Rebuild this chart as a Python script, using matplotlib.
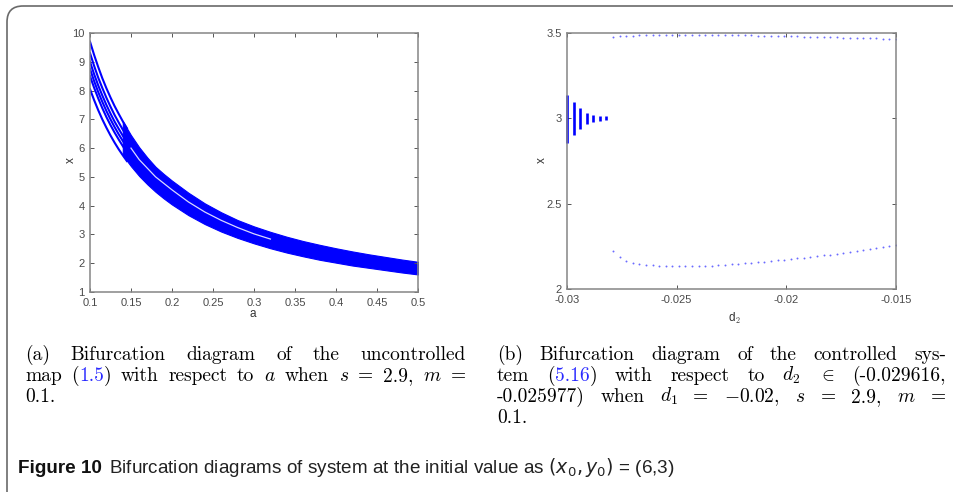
import numpy as np
import matplotlib
matplotlib.use('Agg')
import matplotlib.pyplot as plt
from matplotlib.patches import FancyBboxPatch

plt.rcParams['mathtext.fontset'] = 'cm'

# ---- panel (a): uncontrolled map, band ----
a_band = [0.14, 0.15, 0.16, 0.17, 0.18, 0.19, 0.2, 0.22, 0.24, 0.26, 0.28, 0.3,
          0.32, 0.34, 0.36, 0.38, 0.4, 0.42, 0.44, 0.46, 0.48, 0.5]
x_upper = [6.93, 6.45, 6.03, 5.67, 5.35, 5.1, 4.87, 4.45, 4.08, 3.77, 3.5, 3.28,
           3.09, 2.92, 2.77, 2.64, 2.52, 2.41, 2.31, 2.22, 2.13, 2.05]
x_lower = [5.75, 5.37, 5.03, 4.74, 4.48, 4.25, 4.04, 3.67, 3.36, 3.1, 2.88, 2.69,
           2.52, 2.37, 2.24, 2.12, 2.02, 1.92, 1.84, 1.76, 1.68, 1.61]

# separate strands near a = 0.1
a_strand = [0.1, 0.105, 0.11, 0.115, 0.12, 0.125, 0.13, 0.135, 0.14, 0.145]
strands = [
    [9.7, 9.24, 8.82, 8.43, 8.08, 7.76, 7.46, 7.19, 6.93, 6.69],
    [9.3, 8.86, 8.45, 8.09, 7.75, 7.44, 7.15, 6.89, 6.64, 6.41],
    [9.0, 8.57, 8.18, 7.83, 7.5, 7.2, 6.92, 6.67, 6.43, 6.21],
    [8.75, 8.33, 7.95, 7.61, 7.29, 7.0, 6.73, 6.48, 6.25, 6.03],
    [8.5, 8.1, 7.73, 7.39, 7.08, 6.8, 6.54, 6.3, 6.07, 5.86],
    [8.05, 7.67, 7.32, 7.0, 6.71, 6.44, 6.19, 5.96, 5.75, 5.55],
]

# thin white gap inside the band
a_gap = [0.15, 0.16, 0.18, 0.2, 0.22, 0.24, 0.26, 0.28, 0.3, 0.32]
x_gap = [6.0, 5.6, 5.0, 4.55, 4.13, 3.78, 3.49, 3.24, 3.02, 2.84]

a_ticks = [0.1, 0.15, 0.2, 0.25, 0.3, 0.35, 0.4, 0.45, 0.5]
a_ticklabels = ['0.1', '0.15', '0.2', '0.25', '0.3', '0.35', '0.4', '0.45', '0.5']
xa_ticks = [1, 2, 3, 4, 5, 6, 7, 8, 9, 10]

# ---- panel (b): controlled system ----
d2_bar = [-0.0300, -0.0297, -0.0294, -0.0291, -0.0288, -0.0285, -0.0282]
bar_lo = [2.853, 2.902, 2.940, 2.967, 2.980, 2.987, 2.988]
bar_hi = [3.134, 3.098, 3.061, 3.032, 3.020, 3.012, 3.011]

d2_dots = [-0.0279, -0.0276, -0.0273, -0.0270, -0.0267, -0.0264, -0.0261, -0.0258,
           -0.0255, -0.0252, -0.0249, -0.0246, -0.0243, -0.0240, -0.0237, -0.0234,
           -0.0231, -0.0228, -0.0225, -0.0222, -0.0219, -0.0216, -0.0213, -0.0210,
           -0.0207, -0.0204, -0.0201, -0.0198, -0.0195, -0.0192, -0.0189, -0.0186,
           -0.0183, -0.0180, -0.0177, -0.0174, -0.0171, -0.0168, -0.0165, -0.0162,
           -0.0159, -0.0156, -0.0153, -0.0150]
x_hi_branch = [3.476, 3.480, 3.482, 3.484, 3.486, 3.487, 3.488, 3.489,
               3.489, 3.490, 3.490, 3.490, 3.490, 3.490, 3.490, 3.489,
               3.489, 3.488, 3.488, 3.487, 3.487, 3.486, 3.485, 3.484,
               3.484, 3.483, 3.482, 3.481, 3.480, 3.479, 3.478, 3.477,
               3.476, 3.475, 3.474, 3.473, 3.472, 3.471, 3.470, 3.469,
               3.468, 3.467, 3.466, 3.465]
x_lo_branch = [2.222, 2.186, 2.166, 2.154, 2.146, 2.141, 2.138, 2.136,
               2.134, 2.133, 2.132, 2.132, 2.133, 2.134, 2.135, 2.137,
               2.139, 2.141, 2.144, 2.147, 2.150, 2.153, 2.156, 2.160,
               2.163, 2.167, 2.171, 2.175, 2.179, 2.183, 2.188, 2.192,
               2.197, 2.202, 2.207, 2.212, 2.218, 2.223, 2.229, 2.235,
               2.241, 2.247, 2.253, 2.260]

d2_ticks = [-0.03, -0.025, -0.02, -0.015]
d2_ticklabels = ['-0.03', '-0.025', '-0.02', '-0.015']
xb_ticks = [2, 2.5, 3, 3.5]
xb_ticklabels = ['2', '2.5', '3', '3.5']

W, H = 954, 492
fig = plt.figure(figsize=(W / 100, H / 100), dpi=100)

# overlay in pixel units for frame and captions
ov = fig.add_axes([0, 0, 1, 1], zorder=-1)
ov.set_xlim(0, W)
ov.set_ylim(H, 0)
ov.axis('off')
ov.add_patch(FancyBboxPatch((7, 6), 1100, 600,
                            boxstyle='round,pad=0,rounding_size=16',
                            fc='none', ec='#6a6a6a', lw=1.2))

tick_font = ['Liberation Sans', 'DejaVu Sans']


def style_axes(ax):
    for sp in ax.spines.values():
        sp.set_color('#858585')
        sp.set_linewidth(1.1)
    ax.tick_params(direction='in', top=True, right=True, length=3, width=0.7,
                   color='#555555', labelcolor='#4a4a4a', labelsize=8, pad=4)
    for lab in ax.get_xticklabels() + ax.get_yticklabels():
        lab.set_family(tick_font)


# ---- left panel ----
ax1 = fig.add_axes([90 / W, 1 - 292 / H, 328 / W, 259 / H])
ax1.fill_between(a_band, x_lower, x_upper, color='#0000ff', lw=0.8, ec='#0000ff')
for s in strands:
    ax1.plot(a_strand, s, color='#0000ff', lw=1.5)
ax1.plot(a_gap, x_gap, color='white', lw=0.9, alpha=0.85)
ax1.set_xlim(0.1, 0.5)
ax1.set_ylim(1, 10)
ax1.set_xticks(a_ticks)
ax1.set_xticklabels(a_ticklabels)
ax1.set_yticks(xa_ticks)
ax1.set_xlabel('a', fontsize=8.5, color='#333333', family=tick_font)
ax1.set_ylabel('x', fontsize=8.5, color='#333333', family=tick_font)
ax1.xaxis.set_label_coords(0.497, -0.063)
ax1.yaxis.set_label_coords(-0.04, 0.51)
style_axes(ax1)

# ---- right panel ----
ax2 = fig.add_axes([567 / W, 1 - 289 / H, 329 / W, 256 / H])
ax2.vlines(d2_bar, bar_lo, bar_hi, color='#0000ff', lw=1.9, clip_on=False)
ax2.plot(d2_dots, x_hi_branch, ls='none', marker='.', ms=2.8,
         color='#3a3aff', alpha=0.75, mew=0)
ax2.plot(d2_dots, x_lo_branch, ls='none', marker='.', ms=2.8,
         color='#3a3aff', alpha=0.75, mew=0)
ax2.set_xlim(-0.03, -0.015)
ax2.set_ylim(2, 3.5)
ax2.set_xticks(d2_ticks)
ax2.set_xticklabels(d2_ticklabels)
ax2.set_yticks(xb_ticks)
ax2.set_yticklabels(xb_ticklabels)
ax2.set_xlabel('d$_2$', fontsize=8.5, color='#333333', family=tick_font)
ax2.set_ylabel('x', fontsize=8.5, color='#333333', family=tick_font)
ax2.xaxis.set_label_coords(0.51, -0.085)
ax2.yaxis.set_label_coords(-0.058, 0.504)
style_axes(ax2)

# ---- sub-captions (justified, serif) ----
renderer = fig.canvas.get_renderer()
K = 'black'
B = '#2a2aff'


def put_line(words, x0, x1, y, justify=True, size=14):
    objs = []
    for w in words:
        segs = [ov.text(0, y, s, color=c, fontsize=size, family='cmr10',
                        va='baseline', ha='left') for s, c in w]
        objs.append(segs)
    widths = [[t.get_window_extent(renderer).width for t in segs] for segs in objs]
    total = sum(sum(ws) for ws in widths)
    if justify and len(objs) > 1:
        gap = (x1 - x0 - total) / (len(objs) - 1)
    else:
        gap = size * 0.45
    x = x0
    for segs, ws in zip(objs, widths):
        for t, wd in zip(segs, ws):
            t.set_x(x)
            x += wd
        x += gap


def words(text):
    return [[(w, K)] for w in text.split(' ')]


put_line(words('(a) Bifurcation diagram of the uncontrolled'), 25, 466, 360)
put_line([[('map', K)], [('(', K), ('1.5', B), (')', K)]] +
         words('with respect to $a$ when $s$ = 2.9, $m$ ='), 25, 466, 381)
put_line(words('0.1.'), 25, 466, 402, justify=False)

put_line(words('(b) Bifurcation diagram of the controlled sys-'), 497, 946, 360)
put_line([[('tem', K)], [('(', K), ('5.16', B), (')', K)]] +
         words('with respect to $d_2$ $\\in$ (-0.029616,'), 497, 946, 381)
put_line(words('-0.025977) when $d_1$ = $-0.02$, $s$ = 2.9, $m$ ='), 497, 946, 402)
put_line(words('0.1.'), 497, 946, 423, justify=False)

# ---- figure caption ----
cap_font = ['Liberation Sans', 'DejaVu Sans']
t1 = ov.text(18, 473, 'Figure 10', fontsize=13.6, family=cap_font,
             weight='bold', va='baseline', color='#111111')
w1 = t1.get_window_extent(renderer).width
ov.text(18 + w1 + 7, 473,
        'Bifurcation diagrams of system at the initial value as '
        '$(x_0,y_0)$ = (6,3)',
        fontsize=13.6, family=cap_font, va='baseline', color='#222222',
        math_fontfamily='dejavusans')

fig.savefig('out.png', dpi=100)
